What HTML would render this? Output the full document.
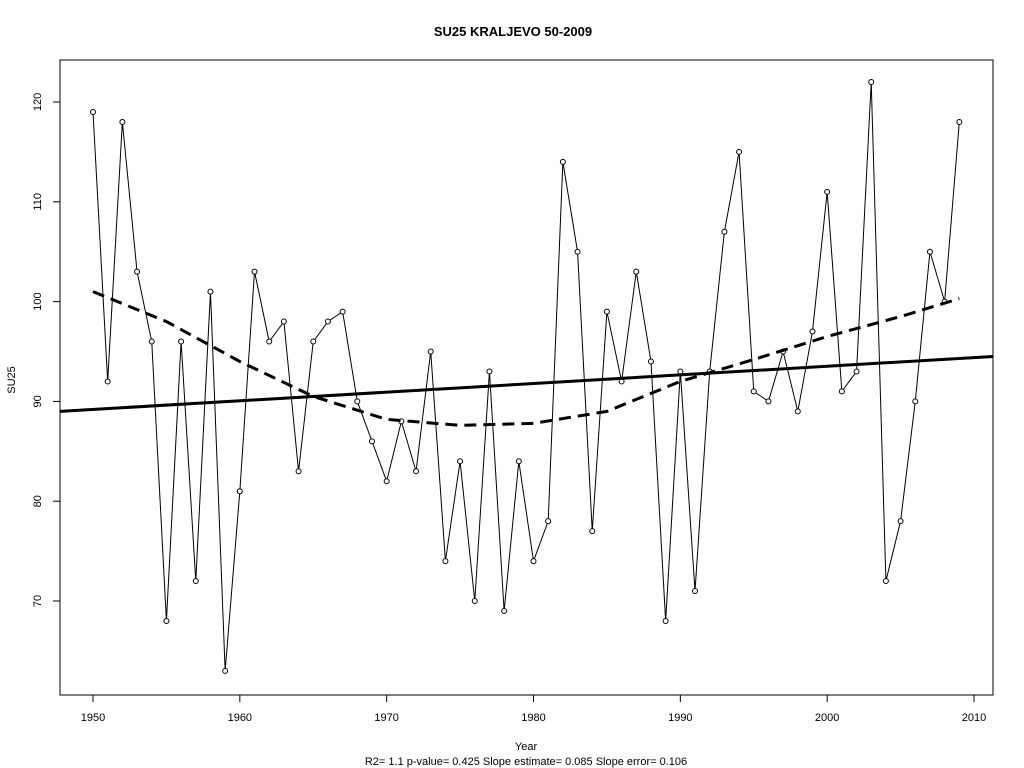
<!DOCTYPE html>
<html><head><meta charset="utf-8"><style>
html,body{margin:0;padding:0;background:#fff}
svg{display:block;font-family:"Liberation Sans",Arial,sans-serif}
</style></head><body>
<svg id="chart" width="1024" height="768">
<text x="513" y="36" text-anchor="middle" font-size="13" font-weight="bold">SU25   KRALJEVO 50-2009</text>
<rect x="60" y="60" width="933" height="635" fill="none" stroke="#000"/>
<text x="0" y="0" transform="translate(15,380) rotate(-90)" text-anchor="middle" font-size="11">SU25</text>
<text x="526" y="750" text-anchor="middle" font-size="11">Year</text>
<text x="526" y="765" text-anchor="middle" font-size="11">R2= 1.1  p-value= 0.425  Slope estimate= 0.085  Slope error= 0.106</text>
<g id="axes"></g>
<g id="marks"></g>
</svg>
<script>
const years=[1950,1951,1952,1953,1954,1955,1956,1957,1958,1959,1960,1961,1962,1963,1964,1965,1966,1967,1968,1969,1970,1971,1972,1973,1974,1975,1976,1977,1978,1979,1980,1981,1982,1983,1984,1985,1986,1987,1988,1989,1990,1991,1992,1993,1994,1995,1996,1997,1998,1999,2000,2001,2002,2003,2004,2005,2006,2007,2008,2009];
const su25=[119,92,118,103,96,68,96,72,101,63,81,103,96,98,83,96,98,99,90,86,82,88,83,95,74,84,70,93,69,84,74,78,114,105,77,99,92,103,94,68,93,71,93,107,115,91,90,95,89,97,111,91,93,122,72,78,90,105,100,118];
const xTicks=[1950,1960,1970,1980,1990,2000,2010];
const yTicks=[70,80,90,100,110,120];
const trendYears=[1947.75,2011.3];
const trendVals=[89.0,94.5];
const smoothYears=[1950,1955,1960,1965,1970,1975,1980,1985,1990,1995,2000,2005,2009];
const smoothVals=[101,98,94,90.5,88.2,87.6,87.8,89,92,94.2,96.5,98.5,100.3];

const X=y=>93+(y-1950)*(881/60);
const Y=v=>102+(120-v)*(499/50);
const NS='http://www.w3.org/2000/svg';
const axes=document.getElementById('axes'),marks=document.getElementById('marks');
function mk(t,a,p){const e=document.createElementNS(NS,t);for(const k in a)e.setAttribute(k,a[k]);p.appendChild(e);return e;}
xTicks.forEach(t=>{
 const l=mk('line',{x1:X(t),x2:X(t),y1:695,y2:702,stroke:'#000'},axes);
 
 
 const tx=mk('text',{x:X(t),y:721,'text-anchor':'middle','font-size':11},axes);tx.textContent=t;
 
 
});
yTicks.forEach(t=>{
 const l=mk('line',{x1:53,x2:60,y1:Y(t),y2:Y(t),stroke:'#000'},axes);
 
 
 const tx=mk('text',{x:0,y:0,transform:`translate(41,${Y(t)}) rotate(-90)`,'text-anchor':'middle','font-size':11},axes);tx.textContent=t;
 
 
});
const ln=mk('polyline',{points:years.map((y,i)=>X(y)+','+Y(su25[i])).join(' '),fill:'none',stroke:'#000','stroke-width':1},marks);


years.forEach((y,i)=>{
 const c=mk('circle',{cx:X(y),cy:Y(su25[i]),r:2.5,fill:'#fff',stroke:'#000','stroke-width':1},marks);
 
 
});
const tr=mk('line',{x1:X(trendYears[0]),y1:Y(trendVals[0]),x2:X(trendYears[1]),y2:Y(trendVals[1]),stroke:'#000','stroke-width':3},marks);


let d='';smoothYears.forEach((y,i)=>{d+=(i?' L':'M')+X(y)+' '+Y(smoothVals[i]);});
const sm=mk('path',{d:d,fill:'none',stroke:'#000','stroke-width':3,'stroke-dasharray':'12,7'},marks);


</script>
</body></html>
